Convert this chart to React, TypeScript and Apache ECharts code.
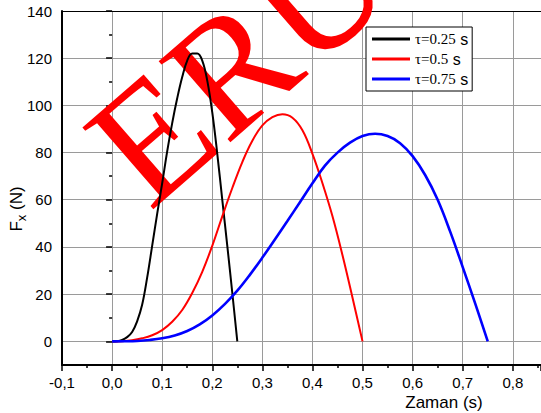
import React, { useEffect, useRef } from "react";
import * as echarts from "echarts";

const tBlack = [0, 0.01, 0.02, 0.03, 0.04, 0.05, 0.06, 0.07, 0.08, 0.09, 0.10, 0.11, 0.12, 0.13, 0.14, 0.15, 0.16, 0.17, 0.18, 0.19, 0.20, 0.21, 0.22, 0.23, 0.24, 0.25];
const fBlack = [0, 0.1, 0.6, 1.8, 4, 8.5, 15.5, 27, 40.5, 54, 67, 80.5, 92.5, 103, 112, 119, 122, 122, 119, 110.5, 97, 79.5, 60, 40.5, 20.5, 0];

const tRed = [0, 0.02, 0.04, 0.06, 0.08, 0.10, 0.12, 0.14, 0.16, 0.18, 0.20, 0.22, 0.24, 0.26, 0.28, 0.30, 0.32, 0.34, 0.36, 0.38, 0.40, 0.42, 0.44, 0.46, 0.48, 0.50];
const fRed = [0, 0.1, 0.5, 1.3, 2.6, 4.8, 8.3, 13.3, 20.5, 29.5, 40.5, 53, 65, 76, 85, 91.5, 95, 96.3, 94.8, 89.5, 79.5, 67, 53, 36.5, 18.5, 0];

const tBlue = [0, 0.025, 0.05, 0.075, 0.10, 0.125, 0.15, 0.175, 0.20, 0.225, 0.25, 0.275, 0.30, 0.325, 0.35, 0.375, 0.40, 0.425, 0.45, 0.475, 0.50, 0.525, 0.55, 0.575, 0.60, 0.625, 0.65, 0.675, 0.70, 0.725, 0.75];
const fBlue = [0, 0.05, 0.2, 0.6, 1.3, 2.5, 4.4, 7.2, 11, 15.8, 21.5, 28.2, 35.5, 43.2, 51, 59, 67, 74.5, 80, 84.2, 87, 88, 87, 84, 78.5, 70.5, 60, 46.5, 31.5, 16, 0];

const seriesNames = ["τ=0.25 s", "τ=0.5 s", "τ=0.75 s"];
const seriesColors = ["#000000", "#ff0000", "#0000ff"];

const xMin = -0.1;
const xMax = 0.8563;
const yTicks = { min: 0, max: 140, step: 20 };

const pairs = (t: number[], f: number[]) => t.map((v, i) => [v, f[i]]);

const SANS = "'Liberation Sans', Arial, sans-serif";
const SERIF = "'Liberation Serif', 'Times New Roman', serif";

export default function App() {
  const ref = useRef<HTMLDivElement>(null);
  useEffect(() => {
    if (!ref.current) return;
    const chart = echarts.init(ref.current, undefined, { renderer: "svg" });
    const gridLeft = 62;
    const gridTop = 11;
    const gridWidth = 481;
    const fullHeight = 354;
    const zeroHeight = 330.3;
    const gray = "#9a9a9a";

    const datasets = [pairs(tBlack, fBlack), pairs(tRed, fRed), pairs(tBlue, fBlue)];
    const widths = [2, 2, 2.6];

    chart.setOption({
      animation: false,
      grid: [
        { left: gridLeft, top: gridTop, width: gridWidth, height: fullHeight },
        { left: gridLeft, top: gridTop, width: gridWidth, height: zeroHeight },
      ],
      xAxis: [
        {
          gridIndex: 0,
          type: "value",
          min: xMin,
          max: xMax,
          interval: 0.1,
          position: "bottom",
          axisLine: { show: true, onZero: false, lineStyle: { color: "#000", width: 2 } },
          axisTick: { show: true, inside: false, length: 6, lineStyle: { color: "#000", width: 1.5 } },
          minorTick: { show: true, splitNumber: 2, length: 3, lineStyle: { color: "#000", width: 1.5 } },
          splitLine: { show: true, lineStyle: { color: gray, width: 1 } },
          axisLabel: {
            margin: 10,
            fontSize: 15,
            fontFamily: SANS,
            color: "#000",
            showMaxLabel: false,
            formatter: (v: number) => {
              const r = Math.round(v * 10) / 10;
              if (Math.abs(v - r) > 1e-6) return "";
              return r.toFixed(1).replace(".", ",");
            },
          },
        },
        {
          gridIndex: 1,
          type: "value",
          min: xMin,
          max: xMax,
          show: false,
        },
        {
          gridIndex: 0,
          type: "value",
          min: xMin,
          max: xMax,
          position: "top",
          axisLine: { show: true, onZero: false, lineStyle: { color: "#000", width: 1 } },
          axisTick: { show: false },
          axisLabel: { show: false },
          splitLine: { show: false },
        },
      ],
      yAxis: [
        {
          gridIndex: 0,
          type: "value",
          min: -10,
          max: 140,
          interval: 10,
          axisLine: { show: true, onZero: false, lineStyle: { color: "#000", width: 2 } },
          axisTick: { show: false },
          axisLabel: { show: false },
          splitLine: { show: false },
        },
        {
          gridIndex: 1,
          type: "value",
          min: yTicks.min,
          max: yTicks.max,
          interval: yTicks.step,
          axisLine: { show: false },
          axisTick: { show: true, inside: false, length: 6, lineStyle: { color: "#000", width: 1.5 } },
          minorTick: { show: true, splitNumber: 2, length: 3, lineStyle: { color: "#000", width: 1.5 } },
          splitLine: { show: true, lineStyle: { color: gray, width: 1 } },
          axisLabel: { margin: 10, fontSize: 15, fontFamily: SANS, color: "#000" },
        },
      ],
      legend: {
        orient: "vertical",
        left: 366,
        top: 27,
        padding: [4, 4, 4, 6],
        itemGap: 4,
        itemWidth: 38,
        itemHeight: 3,
        icon: "rect",
        backgroundColor: "#fff",
        borderColor: "#000",
        borderWidth: 1,
        borderRadius: 0,
        z: 10,
        data: seriesNames,
        formatter: (name: string) => `{a|${name.replace(" s", "")}}{b| s}`,
        textStyle: {
          color: "#000",
          rich: {
            a: { fontFamily: SERIF, fontSize: 15, color: "#000", lineHeight: 17 },
            b: { fontFamily: SANS, fontSize: 16, color: "#000", lineHeight: 17 },
          },
        },
      },
      graphic: [
        {
          type: "text",
          z: 1,
          x: 238,
          y: 62,
          rotation: (41 * Math.PI) / 180,
          style: {
            text: "ERU",
            fill: "#ff0000",
            font: `165px ${SERIF}`,
            align: "center",
            verticalAlign: "middle",
          },
        },
        {
          type: "text",
          x: 444,
          y: 402,
          style: {
            text: "Zaman (s)",
            fill: "#000",
            font: `17px ${SANS}`,
            align: "center",
            verticalAlign: "middle",
          },
        },
        {
          type: "text",
          x: 16,
          y: 209,
          rotation: Math.PI / 2,
          style: {
            text: "{f|F}{s|x}{f| (N)}",
            align: "center",
            verticalAlign: "middle",
            rich: {
              f: { fontFamily: SANS, fontSize: 17, fill: "#000", lineHeight: 22 },
              s: { fontFamily: SANS, fontSize: 13, fill: "#000", lineHeight: 22, padding: [10, 0, 0, 0] },
            },
          },
        },
      ],
      series: datasets.map((d, i) => ({
        name: seriesNames[i],
        type: "line",
        xAxisIndex: 0,
        yAxisIndex: 0,
        data: d,
        symbol: "none",
        showSymbol: false,
        smooth: 0.4,
        z: 5,
        lineStyle: { color: seriesColors[i], width: widths[i] },
        itemStyle: { color: seriesColors[i] },
      })),
    });
    return () => chart.dispose();
  }, []);
  return (
    <div
      ref={ref}
      style={{ position: "fixed", left: 0, top: 0, width: 541, height: 413, background: "#fff" }}
    />
  );
}
